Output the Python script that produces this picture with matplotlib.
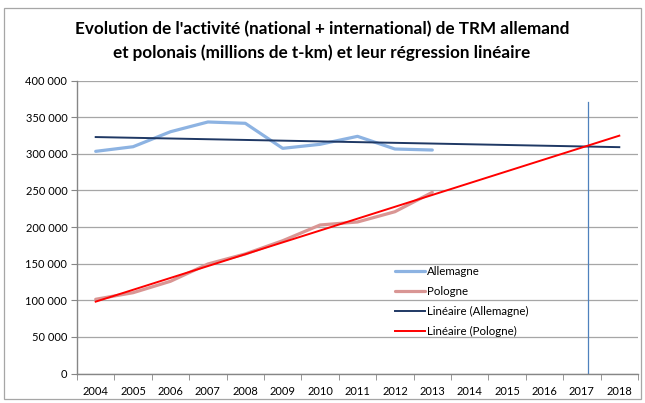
import numpy as np
import matplotlib
matplotlib.use("Agg")
import matplotlib.pyplot as plt
from matplotlib.patches import Rectangle
from matplotlib.ticker import FuncFormatter, MultipleLocator

plt.rcParams['font.family'] = ['Lato', 'DejaVu Sans']

years = list(range(2004, 2019))
data_years = list(range(2004, 2014))
allemagne = [303500, 309800, 330300, 343600, 341800, 307600, 313100, 324000, 306700, 305300]
pologne = [101400, 110400, 126000, 149600, 163300, 181400, 202900, 207000, 221000, 247500]
vline_year = 2017.16
vline_top = 371000

title = ("Evolution de l'activité (national + international) de TRM allemand\n"
         "et polonais (millions de t-km) et leur régression linéaire")

fig = plt.figure(figsize=(6.45, 4.03), dpi=100)
ax = fig.add_axes([77/645, 1-373.5/403, (638-77)/645, (373.5-80.7)/403])

xi_data = np.array([y - years[0] for y in data_years])
xi_all = np.array([y - years[0] for y in years])

ax.plot(xi_data, allemagne, color='#8DB3E2', lw=2.3, label='Allemagne', solid_capstyle='round', zorder=3)
ax.plot(xi_data, pologne, color='#D99694', lw=2.3, label='Pologne', solid_capstyle='round', zorder=3)

pa = np.polyfit(xi_data, allemagne, 1)
pp = np.polyfit(xi_data, pologne, 1)
ax.plot(xi_all, np.polyval(pa, xi_all), color='#1F3864', lw=1.4, label='Linéaire (Allemagne)', zorder=4)
ax.plot(xi_all, np.polyval(pp, xi_all), color='#FF0000', lw=1.4, label='Linéaire (Pologne)', zorder=4)

vx = vline_year - years[0]
ax.plot([vx, vx], [0, vline_top], color='#4F81BD', lw=0.9, zorder=2)

ax.set_xlim(-0.5, len(years) - 0.5)
ax.set_ylim(0, 400000)
ax.yaxis.set_major_locator(MultipleLocator(50000))
ax.yaxis.set_major_formatter(FuncFormatter(lambda v, p: f"{int(v):,}".replace(",", " ")))
ax.set_xticks(xi_all)
ax.set_xticklabels([str(y) for y in years])
ax.set_xticks(np.arange(-0.5, len(years)), minor=True)
ax.tick_params(axis='x', which='major', length=0, pad=9, labelsize=8, colors='black')
ax.tick_params(axis='x', which='minor', length=4, color='#868686', direction='out')
ax.tick_params(axis='y', length=4, color='#868686', labelsize=8, pad=3)
ax.grid(axis='y', color='#A6A6A6', lw=0.9, zorder=0)
for s in ['top', 'right']:
    ax.spines[s].set_visible(False)
for s in ['left', 'bottom']:
    ax.spines[s].set_color('#868686')
    ax.spines[s].set_linewidth(1.0)

leg = ax.legend(loc='upper left', bbox_to_anchor=((395-77)/561, 1-(266-80.7)/292.8),
                frameon=False, fontsize=8.3, handlelength=2.6, handletextpad=0.2,
                labelspacing=0.78, borderpad=0, borderaxespad=0)

fig.text(322/645, 1-41/403, title, ha='center', va='center', fontsize=12.3,
         fontweight='bold', linespacing=1.5)

fig.patches.append(Rectangle((4/645, 1-399/403), 637/645, 391/403, transform=fig.transFigure,
                             fill=False, edgecolor='#A6A6A6', lw=0.9))

fig.savefig('out.png', dpi=100)
